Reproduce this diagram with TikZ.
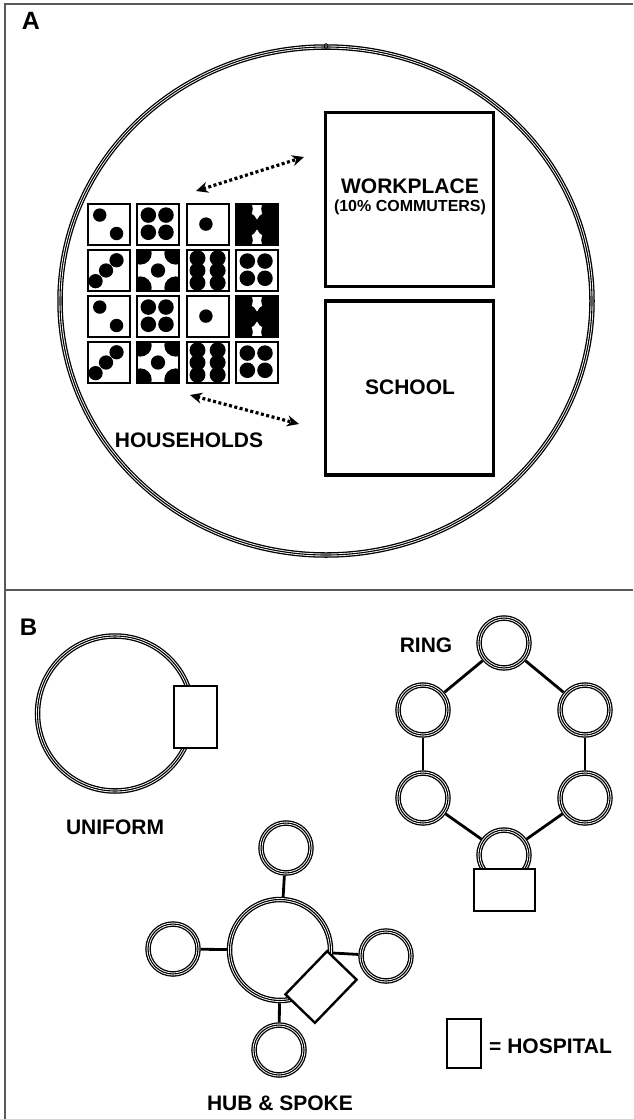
\documentclass[tikz,border=0pt]{standalone}
\usepackage{fontspec}
\setmainfont{Liberation Sans}
\usetikzlibrary{arrows.meta}
\def\pipsOne{0.45/0.49/0.16}
\def\pipsTwo{0.28/0.27/0.16, 0.68/0.72/0.16}
\def\pipsThree{0.18/0.76/0.17, 0.43/0.5/0.17, 0.68/0.25/0.17}
\def\pipsFour{0.27/0.27/0.185, 0.69/0.27/0.185, 0.27/0.69/0.185, 0.69/0.69/0.185}
\def\pipsFive{0.08/0.08/0.27, 0.92/0.08/0.27, 0.08/0.92/0.27, 0.92/0.92/0.27, 0.5/0.5/0.17}
\def\pipsSix{0.25/0.2/0.19, 0.73/0.2/0.19, 0.25/0.5/0.19, 0.73/0.5/0.19, 0.25/0.8/0.19, 0.73/0.8/0.19}
\def\pipsSixBig{0.15/0.12/0.25, 0.85/0.12/0.25, 0.22/0.5/0.3, 0.78/0.5/0.3, 0.15/0.88/0.25, 0.85/0.88/0.25}
\newcommand\housedie[3]{%
  \begin{scope}[shift={(#1,#2)}]
    \begin{scope}
      \clip (0,0) rectangle (42,41);
      \foreach \px/\py/\pr in #3 {\fill (\px*42,\py*41) circle[radius=\pr*42];}
    \end{scope}
    \draw[line width=2.2pt] (0,0) rectangle (42,41);
  \end{scope}}
\begin{document}
\begin{tikzpicture}[x=1pt,y=-1pt,
  lbl/.style={font=\bfseries\fontsize{21}{24}\selectfont, inner sep=0},
  ring3/.style={draw=black, line width=5.5pt,
    postaction={draw=white, line width=2.9pt},
    postaction={draw=black, line width=1.1pt}},
  place/.style={draw=black, line width=3.4pt, fill=white, inner sep=0,
    minimum width=167.6pt, minimum height=174pt},
  hosp/.style={draw=black, line width=2.4pt, fill=white, inner sep=0},
  town/.style={circle, ring3, minimum size=50pt, inner sep=0},
  link/.style={line width=2.8pt},
  trip/.style={line width=3.2pt, dash pattern=on 3pt off 2.5pt,
    {Stealth[length=12pt,width=11pt]}-{Stealth[length=12pt,width=11pt]}},
  frame/.style={line width=1.3pt, black!65}
]
\useasboundingbox (0,0) rectangle (633,1119);
\fill[white] (0,0) rectangle (633,1119);
% frame
\draw[frame] (633,4) -- (5,4) -- (5,1119);
\draw[frame] (5,590) -- (633,590);

% ---------- Panel A ----------
\node[lbl, font=\bfseries\fontsize{25}{28}\selectfont] (labA) at (31,21) {A};
\draw[ring3] (326,301) ellipse [x radius=266, y radius=254];
\draw[line width=0.7pt] (326,46) ellipse [x radius=1.8, y radius=2.4];

\node[place] (work) at (409.5,199.5) {};
\node[place] (school) at (409.5,388) {};
\node[lbl] (worktxt) at (410,186) {WORKPLACE};
\node[font=\bfseries\fontsize{16}{18}\selectfont, inner sep=0] (commtxt) at (410,207) {(10\% COMMUTERS)};
\node[lbl] (schooltxt) at (410,387) {SCHOOL};
\node[lbl] (housetxt) at (189,440) {HOUSEHOLDS};

% dice
\housedie{88}{204}{\pipsTwo}
\housedie{137}{204}{\pipsFour}
\housedie{187}{204}{\pipsOne}
\housedie{236}{204}{\pipsSixBig}
\housedie{88}{250}{\pipsThree}
\housedie{137}{250}{\pipsFive}
\housedie{187}{250}{\pipsSix}
\housedie{236}{250}{\pipsFour}
\housedie{88}{296}{\pipsTwo}
\housedie{137}{296}{\pipsFour}
\housedie{187}{296}{\pipsOne}
\housedie{236}{296}{\pipsSixBig}
\housedie{88}{342}{\pipsThree}
\housedie{137}{342}{\pipsFive}
\housedie{187}{342}{\pipsSix}
\housedie{236}{342}{\pipsFour}

\coordinate (hw) at (196,191);
\coordinate (wh) at (304,157);
\coordinate (hs) at (190,395);
\coordinate (sh) at (299,424);
\draw[trip] (hw) -- (wh);
\draw[trip] (hs) -- (sh);

% ---------- Panel B ----------
\node[lbl, font=\bfseries\fontsize{24}{27}\selectfont] (labB) at (28.5,627) {B};

% uniform
\node[circle, ring3, minimum size=155pt, inner sep=0] (uni) at (115,713.5) {};
\node[hosp, minimum width=43pt, minimum height=62pt] (unihosp) at (195.5,717) {};
\node[lbl] (unitxt) at (115,827) {UNIFORM};

% ring
\node[lbl] (ringtxt) at (426,645) {RING};
\node[town] (t1) at (504,643) {};
\node[town] (t2) at (423,710) {};
\node[town] (t3) at (423,798) {};
\node[town] (t4) at (504,855) {};
\node[town] (t5) at (585,798) {};
\node[town] (t6) at (585,710) {};
\draw[link] (t1) -- (t2);
\draw[link] (t2) -- (t3);
\draw[link] (t3) -- (t4);
\draw[link] (t4) -- (t5);
\draw[link] (t5) -- (t6);
\draw[link] (t6) -- (t1);
\node[hosp, minimum width=61pt, minimum height=42pt] (ringhosp) at (504.5,890) {};

% hub & spoke
\node[circle, ring3, minimum size=101pt, inner sep=0] (hub) at (280,950) {};
\node[town] (sT) at (286,848) {};
\node[town] (sL) at (173,949) {};
\node[town] (sR) at (386,956) {};
\node[town] (sB) at (279,1050) {};
\draw[link] (hub) -- (sT);
\draw[link] (hub) -- (sL);
\draw[link] (hub) -- (sR);
\draw[link] (hub) -- (sB);
\node[hosp, minimum width=41pt, minimum height=60pt, rotate=-44] (hubhosp) at (321,987) {};
\node[lbl] (hubtxt) at (280,1103) {HUB \& SPOKE};

% legend
\node[hosp, minimum width=34pt, minimum height=49pt] (leghosp) at (464,1043.5) {};
\node[lbl, anchor=west] (legtxt) at (489,1046) {= HOSPITAL};
\end{tikzpicture}
\end{document}
